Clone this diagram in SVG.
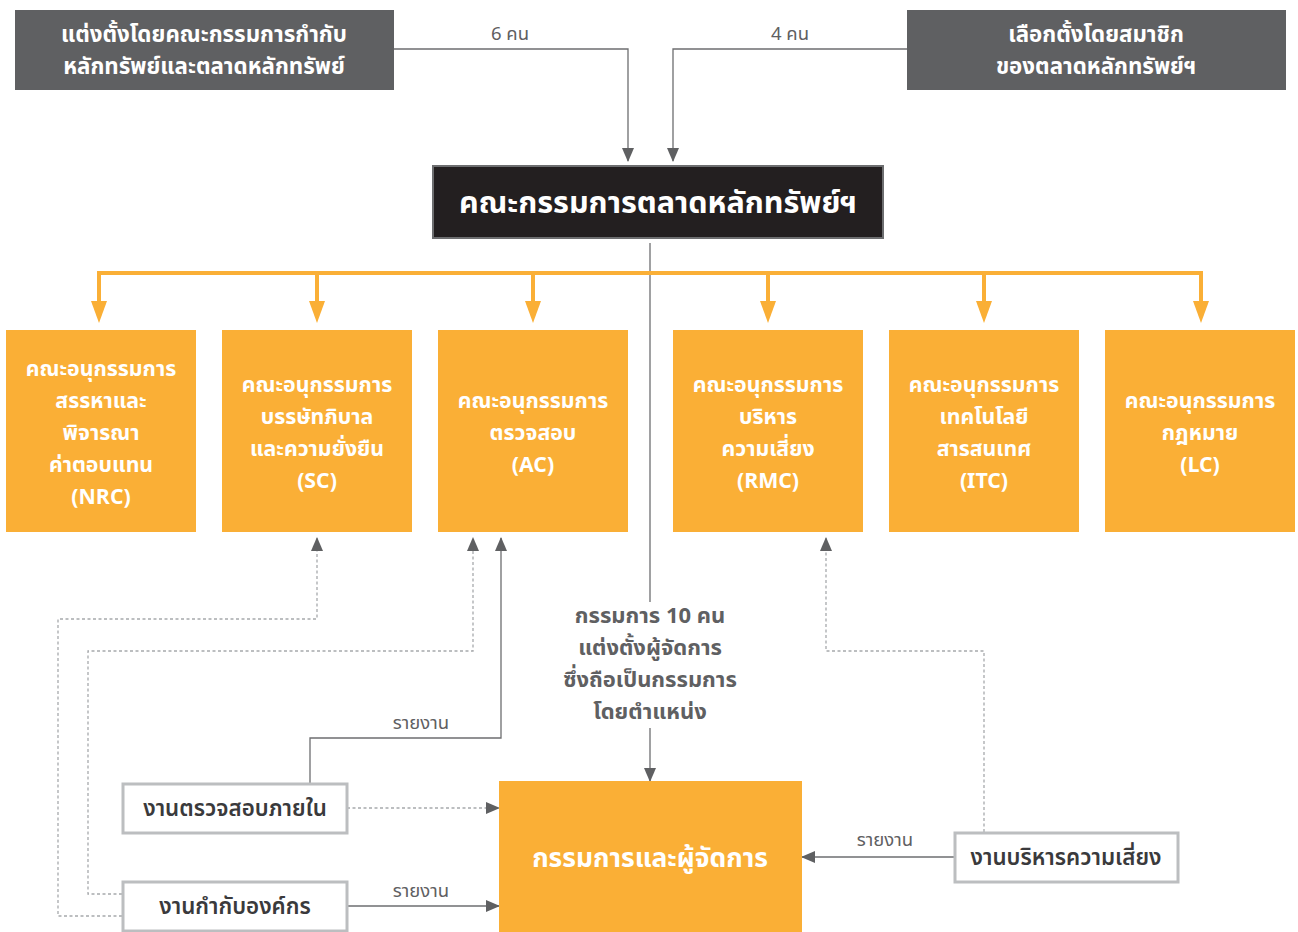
<svg xmlns="http://www.w3.org/2000/svg" width="1298" height="932" viewBox="0 0 1298 932">
  <defs>
    <style>
      text { font-family: "Noto Sans Thai", "Noto Sans Thai UI", "Noto Sans", "DejaVu Sans", sans-serif; text-anchor: middle; }
      .src { fill: #5f6062; }
      .board { fill: #231f20; stroke: #6d6e70; stroke-width: 2; }
      .sub { fill: #faaf36; }
      .unit { fill: #ffffff; stroke: #bcbec0; stroke-width: 3; }
      .wt { fill: #ffffff; font-weight: 700; }
      .t20 { font-size: 21.3px; }
      .t22 { font-size: 22.3px; }
      .lbl { fill: #5f6062; font-size: 18.5px; }
      .note { fill: #5f6062; font-size: 22px; font-weight: 700; }
      .unitt { fill: #3a3a3c; font-size: 22.3px; font-weight: 600; }
      .ln { fill: none; stroke: #6d6e70; stroke-width: 1.3; }
      .dash { fill: none; stroke: #a7a9ac; stroke-width: 1.3; stroke-dasharray: 3 2.5; }
      .bus { fill: none; stroke: #faaf36; stroke-width: 4; }
    </style>
    <marker id="arr" markerUnits="userSpaceOnUse" markerWidth="14" markerHeight="12" refX="13" refY="6" orient="auto">
      <path d="M0,0 L14,6 L0,12 z" fill="#5f6062"/>
    </marker>
    <marker id="arrO" markerUnits="userSpaceOnUse" markerWidth="22" markerHeight="16" refX="0" refY="8" orient="auto">
      <path d="M0,0 L22,8 L0,16 z" fill="#faaf36"/>
    </marker>
  </defs>

  <rect width="1298" height="932" fill="#ffffff"/>

  <!-- connectors -->
  <g id="connectors">
    <path class="ln" d="M394,49 H628 V161" marker-end="url(#arr)"/>
    <path class="ln" d="M907,49 H673 V161" marker-end="url(#arr)"/>
    <path class="ln" d="M650,243 V602"/>
    <path class="ln" d="M650,728 V781" marker-end="url(#arr)"/>

    <path class="bus" d="M99,301 V273 H1201 V301" marker-end="url(#arrO)"/>
    <path class="bus" d="M99,273 V301" marker-end="url(#arrO)"/>
    <path class="bus" d="M317,273 V301" marker-end="url(#arrO)"/>
    <path class="bus" d="M533,273 V301" marker-end="url(#arrO)"/>
    <path class="bus" d="M768,273 V301" marker-end="url(#arrO)"/>
    <path class="bus" d="M984,273 V301" marker-end="url(#arrO)"/>

    <path class="ln" d="M310,783 V738 H501 V538" marker-end="url(#arr)"/>
    <path class="dash" d="M347,808 H499" marker-end="url(#arr)"/>
    <path class="ln" d="M347,906 H499" marker-end="url(#arr)"/>
    <path class="dash" d="M122,916 H58 V619 H317 V538" marker-end="url(#arr)"/>
    <path class="dash" d="M122,894 H88 V651 H473 V538" marker-end="url(#arr)"/>
    <path class="dash" d="M984,832 V651 H826 V538" marker-end="url(#arr)"/>
    <path class="ln" d="M954,857 H802" marker-end="url(#arr)"/>

    <text class="lbl" x="510" y="40">6 คน</text>
    <text class="lbl" x="790" y="40">4 คน</text>
    <text class="lbl" x="421" y="729">รายงาน</text>
    <text class="lbl" x="421" y="897">รายงาน</text>
    <text class="lbl" x="885" y="846">รายงาน</text>
  </g>

  <!-- appointing bodies -->
  <g id="sec-appointed">
    <rect class="src" x="15" y="10" width="379" height="80"/>
    <text class="wt t22" x="204" y="42">แต่งตั้งโดยคณะกรรมการกำกับ</text>
    <text class="wt t22" x="204" y="74">หลักทรัพย์และตลาดหลักทรัพย์</text>
  </g>
  <g id="member-elected">
    <rect class="src" x="907" y="10" width="379" height="80"/>
    <text class="wt t22" x="1096" y="42">เลือกตั้งโดยสมาชิก</text>
    <text class="wt t22" x="1096" y="74">ของตลาดหลักทรัพย์ฯ</text>
  </g>

  <!-- board -->
  <g id="board">
    <rect class="board" x="433" y="166" width="450" height="72"/>
    <text class="wt" x="658" y="213" font-size="30.5">คณะกรรมการตลาดหลักทรัพย์ฯ</text>
  </g>

  <!-- sub-committees -->
  <g id="nrc">
    <rect class="sub" x="6" y="330" width="190" height="202"/>
    <text class="wt t20" x="101" y="376">คณะอนุกรรมการ</text>
    <text class="wt t20" x="101" y="408">สรรหาและ</text>
    <text class="wt t20" x="101" y="440">พิจารณา</text>
    <text class="wt t20" x="101" y="472">ค่าตอบแทน</text>
    <text class="wt t20" x="101" y="504">(NRC)</text>
  </g>
  <g id="sc">
    <rect class="sub" x="222" y="330" width="190" height="202"/>
    <text class="wt t20" x="317" y="392">คณะอนุกรรมการ</text>
    <text class="wt t20" x="317" y="424">บรรษัทภิบาล</text>
    <text class="wt t20" x="317" y="456">และความยั่งยืน</text>
    <text class="wt t20" x="317" y="488">(SC)</text>
  </g>
  <g id="ac">
    <rect class="sub" x="438" y="330" width="190" height="202"/>
    <text class="wt t20" x="533" y="408">คณะอนุกรรมการ</text>
    <text class="wt t20" x="533" y="440">ตรวจสอบ</text>
    <text class="wt t20" x="533" y="472">(AC)</text>
  </g>
  <g id="rmc">
    <rect class="sub" x="673" y="330" width="190" height="202"/>
    <text class="wt t20" x="768" y="392">คณะอนุกรรมการ</text>
    <text class="wt t20" x="768" y="424">บริหาร</text>
    <text class="wt t20" x="768" y="456">ความเสี่ยง</text>
    <text class="wt t20" x="768" y="488">(RMC)</text>
  </g>
  <g id="itc">
    <rect class="sub" x="889" y="330" width="190" height="202"/>
    <text class="wt t20" x="984" y="392">คณะอนุกรรมการ</text>
    <text class="wt t20" x="984" y="424">เทคโนโลยี</text>
    <text class="wt t20" x="984" y="456">สารสนเทศ</text>
    <text class="wt t20" x="984" y="488">(ITC)</text>
  </g>
  <g id="lc">
    <rect class="sub" x="1105" y="330" width="190" height="202"/>
    <text class="wt t20" x="1200" y="408">คณะอนุกรรมการ</text>
    <text class="wt t20" x="1200" y="440">กฎหมาย</text>
    <text class="wt t20" x="1200" y="472">(LC)</text>
  </g>

  <!-- appointment note -->
  <g id="note">
    <text class="note" x="650" y="623">กรรมการ 10 คน</text>
    <text class="note" x="650" y="655">แต่งตั้งผู้จัดการ</text>
    <text class="note" x="650" y="687">ซึ่งถือเป็นกรรมการ</text>
    <text class="note" x="650" y="719">โดยตำแหน่ง</text>
  </g>

  <!-- management -->
  <g id="management">
    <rect class="sub" x="499" y="781" width="303" height="151"/>
    <text class="wt" x="650" y="867" font-size="26.4">กรรมการและผู้จัดการ</text>
  </g>

  <!-- operating units -->
  <g id="internal-audit">
    <rect class="unit" x="123" y="784" width="224" height="49"/>
    <text class="unitt" x="235" y="816">งานตรวจสอบภายใน</text>
  </g>
  <g id="corporate-governance">
    <rect class="unit" x="123" y="882" width="224" height="49"/>
    <text class="unitt" x="235" y="914">งานกำกับองค์กร</text>
  </g>
  <g id="risk-management">
    <rect class="unit" x="955" y="833" width="223" height="49"/>
    <text class="unitt" x="1066" y="865">งานบริหารความเสี่ยง</text>
  </g>
</svg>
